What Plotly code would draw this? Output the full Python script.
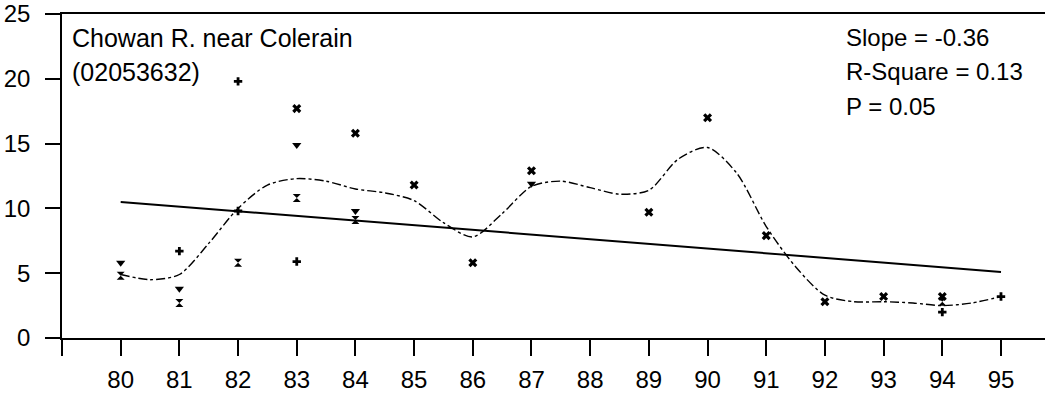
import plotly.graph_objects as go

# Observations by marker type (year, value)
plus_years = [81, 82, 82, 83, 94, 95]
plus_vals = [6.7, 19.8, 9.8, 5.9, 2.0, 3.2]

tri_years = [80, 81, 83, 84, 87]
tri_vals = [5.8, 3.8, 14.9, 9.8, 11.9]

hg_years = [80, 81, 82, 83, 84, 94]
hg_vals = [4.8, 2.7, 5.8, 10.8, 9.1, 2.8]

x_years = [83, 84, 85, 86, 87, 89, 90, 91, 92, 93, 94]
x_vals = [17.7, 15.8, 11.8, 5.8, 12.9, 9.7, 17.0, 7.9, 2.8, 3.2, 3.2]

# Smoothed (LOWESS-like) curve
curve_x = [80, 80.5, 81, 81.5, 82, 82.5, 83, 83.5, 84, 84.5, 85, 85.5, 86, 86.5,
           87, 87.5, 88, 88.5, 89, 89.5, 90, 90.5, 91, 91.5, 92, 92.5, 93, 93.5,
           94, 94.5, 95]
curve_y = [4.9, 4.5, 4.9, 7.3, 10.0, 11.8, 12.3, 12.1, 11.5, 11.2, 10.6, 8.9, 7.8, 9.6,
           11.7, 12.1, 11.6, 11.1, 11.4, 13.8, 14.7, 12.7, 8.6, 5.5, 3.3, 2.8, 2.8, 2.7,
           2.5, 2.7, 3.2]

# Linear trend
trend_x = [80, 95]
trend_y = [10.5, 5.1]

year_ticks = [79, 80, 81, 82, 83, 84, 85, 86, 87, 88, 89, 90, 91, 92, 93, 94, 95]
year_labels = [""] + [str(v) for v in year_ticks[1:]]
y_ticks = [0, 5, 10, 15, 20, 25]

site_lines = ["Chowan R. near Colerain", "(02053632)"]
stat_lines = ["Slope = -0.36", "R-Square = 0.13", "P = 0.05"]

FONT = "Liberation Sans, Arial, sans-serif"

fig = go.Figure()
fig.add_trace(go.Scatter(x=trend_x, y=trend_y, mode="lines",
                         line=dict(color="black", width=2)))
fig.add_trace(go.Scatter(x=curve_x, y=curve_y, mode="lines",
                         line=dict(color="black", width=1.4, dash="dashdot", shape="spline",
                                   smoothing=0.8)))
fig.add_trace(go.Scatter(x=plus_years, y=plus_vals, mode="markers",
                         marker=dict(symbol="cross", size=7, color="black")))
fig.add_trace(go.Scatter(x=tri_years, y=tri_vals, mode="markers",
                         marker=dict(symbol="triangle-down", size=8, color="black")))
fig.add_trace(go.Scatter(x=hg_years, y=hg_vals, mode="markers",
                         marker=dict(symbol="hourglass", size=8, color="black")))
fig.add_trace(go.Scatter(x=x_years, y=x_vals, mode="markers",
                         marker=dict(symbol="x", size=8, color="black")))

for i, t in enumerate(site_lines):
    fig.add_annotation(text=t, xref="paper", yref="paper", x=0.008, y=0.926 - i * 0.105,
                       xanchor="left", yanchor="middle", showarrow=False,
                       font=dict(size=25, color="black", family=FONT))
for i, t in enumerate(stat_lines):
    fig.add_annotation(text=t, xref="paper", yref="paper", x=0.796, y=0.926 - i * 0.105,
                       xanchor="left", yanchor="middle", showarrow=False,
                       font=dict(size=24, color="black", family=FONT))

fig.update_layout(
    width=1047, height=394,
    margin=dict(l=62, r=2, t=14, b=56, autoexpand=False),
    paper_bgcolor="white", plot_bgcolor="white",
    showlegend=False,
    font=dict(family=FONT, size=24, color="black"),
)
fig.update_xaxes(range=[79, 95.75], tickvals=year_ticks, ticktext=year_labels,
                 ticks="outside", ticklen=16, tickwidth=1.5, tickcolor="black",
                 showline=True, linecolor="black", linewidth=2, mirror=True,
                 showgrid=False, zeroline=False, tickfont=dict(size=24),
                 automargin=False, ticklabelstandoff=3)
fig.update_yaxes(range=[0, 25], tickvals=y_ticks,
                 ticks="outside", ticklen=15, tickwidth=1.5, tickcolor="black",
                 showline=True, linecolor="black", linewidth=1.5,
                 showgrid=False, zeroline=False, tickfont=dict(size=24),
                 automargin=False, ticklabelstandoff=10)

# remove the page's default body margin so the figure sits at the window's corner
fig.write_html("out.html",
               config={"displayModeBar": False},
               post_script="document.body.style.margin='0';document.body.style.padding='0';"
                           "document.body.style.overflow='hidden';")
